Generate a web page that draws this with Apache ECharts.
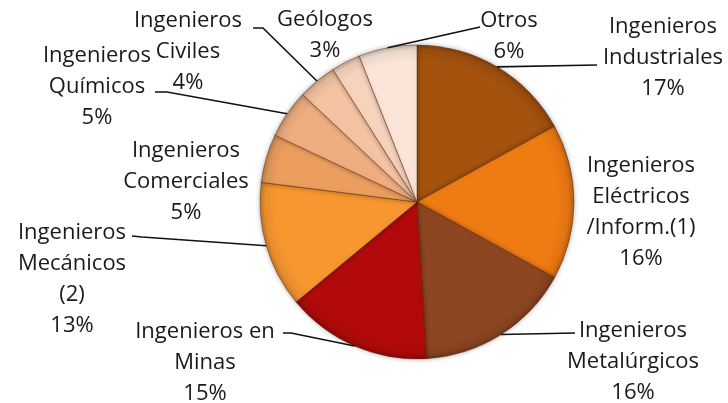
<!DOCTYPE html>
<html>
<head>
<meta charset="utf-8">
<script src="https://cdn.jsdelivr.net/npm/echarts@6/dist/echarts.min.js"></script>
<style>
  html, body { margin: 0; padding: 0; background: #ffffff; }
  #chart { width: 728px; height: 403px; }
</style>
</head>
<body>
<div id="chart"></div>
<script>
// Professional groups, clockwise from 12 o'clock
const categories = [
  'Ingenieros\nIndustriales',
  'Ingenieros\nEléctricos\n/Inform.(1)',
  'Ingenieros\nMetalúrgicos',
  'Ingenieros en\nMinas',
  'Ingenieros\nMecánicos\n(2)',
  'Ingenieros\nComerciales',
  'Ingenieros\nQuímicos',
  'Ingenieros\nCiviles',
  'Geólogos',
  'Otros'
];
const shares = [17, 16, 16, 15, 13, 5, 5, 4, 3, 6];

// Slice fills
const sliceColors = [
  '#A4520E', '#EF7B13', '#8E4622', '#B20A0A', '#F8962F',
  '#EC9E5E', '#F0AE80', '#F4C3A1', '#F7D3BD', '#FBE5D8'
];

// Pie geometry (pixels)
const CX = 417, CY = 202, R = 157;

// Label block centres and the end of each leader line on the label side
// (null = no leader line, 'stub' = short horizontal run before the label)
const labelPlacement = [
  { x: 663, y: 58,  end: [597, 65] },
  { x: 641, y: 212, end: null },
  { x: 633, y: 362, end: [575, 333] },
  { x: 205, y: 363, end: [283, 333], stub: [291, 333] },
  { x: 72,  y: 279, end: [132, 236], stub: [142, 237] },
  { x: 186, y: 182, end: null },
  { x: 97,  y: 87,  end: [155, 92], stub: [167, 92] },
  { x: 188, y: 52,  end: [253, 28], stub: [263, 28] },
  { x: 325, y: 35,  end: null },
  { x: 509, y: 36,  end: [480, 27] }
];

function shade(hex, f) {
  const n = parseInt(hex.slice(1), 16);
  const r = Math.round(((n >> 16) & 255) * f);
  const g = Math.round(((n >> 8) & 255) * f);
  const b = Math.round((n & 255) * f);
  return 'rgb(' + r + ',' + g + ',' + b + ')';
}

const pieData = categories.map((name, i) => ({
  name: name,
  value: shares[i],
  itemStyle: {
    color: {
      type: 'radial', x: CX, y: CY, r: R, global: true,
      colorStops: [
        { offset: 0, color: sliceColors[i] },
        { offset: 0.9, color: sliceColors[i] },
        { offset: 0.97, color: shade(sliceColors[i], 0.93) },
        { offset: 1, color: shade(sliceColors[i], 0.78) }
      ]
    }
  }
}));

const chart = echarts.init(document.getElementById('chart'), null, { renderer: 'canvas' });

chart.setOption({
  animation: false,
  backgroundColor: '#ffffff',
  series: [{
    type: 'pie',
    center: [CX, CY],
    radius: R,
    startAngle: 90,
    clockwise: true,
    avoidLabelOverlap: false,
    data: pieData,
    itemStyle: {
      borderColor: 'rgba(80,35,10,0.45)',
      borderWidth: 1,
      shadowBlur: 5,
      shadowColor: 'rgba(0,0,0,0.3)'
    },
    label: {
      show: true,
      position: 'outside',
      formatter: p => p.name + '\n' + p.value + '%',
      fontFamily: 'Open Sans',
      fontSize: 22,
      lineHeight: 31,
      color: '#1a1a1a',
      align: 'center'
    },
    labelLine: { show: false },
    labelLayout: function (params) {
      const p = labelPlacement[params.dataIndex];
      return { x: p.x, y: p.y, align: 'center', verticalAlign: 'middle', hideOverlap: false };
    },
    emphasis: { disabled: true }
  }]
});

// Leader lines from each slice's outer mid-point to its label
function drawLeaders() {
  const data = chart.getModel().getSeriesByIndex(0).getData();
  const elements = [];
  labelPlacement.forEach((p, i) => {
    if (!p.end) return;
    const lay = data.getItemLayout(i);
    const mid = (lay.startAngle + lay.endAngle) / 2;
    const ax = lay.cx + lay.r * Math.cos(mid);
    const ay = lay.cy + lay.r * Math.sin(mid);
    const pts = [[ax, ay]];
    if (p.stub) pts.push(p.stub);
    pts.push(p.end);
    elements.push({
      type: 'polyline',
      silent: true,
      z: 10,
      shape: { points: pts },
      style: { stroke: '#111111', lineWidth: 1.6, fill: null }
    });
  });
  chart.setOption({ graphic: { elements: elements } });
}
drawLeaders();
</script>
</body>
</html>
